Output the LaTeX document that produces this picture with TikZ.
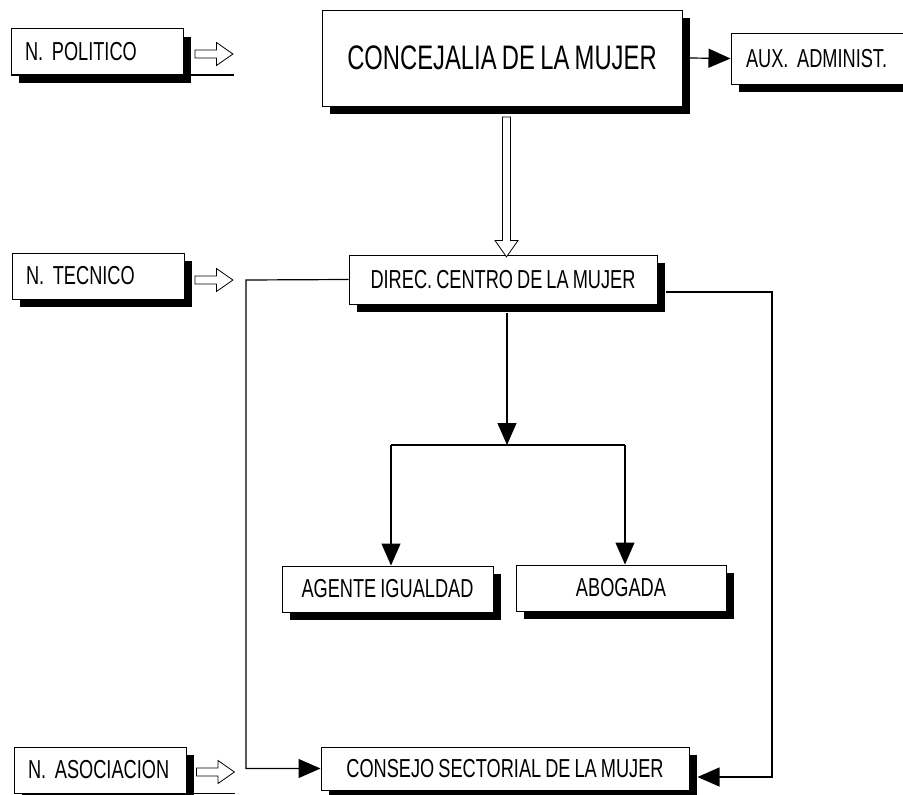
\documentclass[tikz,border=0pt]{standalone}
\usepackage{fontspec}
\setmainfont[FakeStretch=0.70,WordSpace=0.8]{Liberation Sans}
\usetikzlibrary{arrows.meta,shadows,shapes.arrows}

\begin{document}
\begin{tikzpicture}[x=1pt,y=-1pt,
    box/.style={draw,fill=white,line width=1pt,inner sep=0pt,
      font=\fontsize{26pt}{30pt}\selectfont\frenchspacing,
      drop shadow={shadow xshift=8pt,shadow yshift=-8pt,opacity=1,fill=black}},
    level/.style={box,inner xsep=14pt,text width=144pt,align=left,minimum height=46pt},
    hollow/.style={single arrow,draw,fill=white,line width=.8pt,inner sep=3.5pt,
      minimum height=38pt,minimum width=23pt,single arrow tip angle=70},
    wire/.style={line width=1.2pt},
    conn/.style={wire,-{Triangle[length=22pt,width=19pt]}}]

        \useasboundingbox (0,0) rectangle (903,795);

        % levels on the left
        \node[level] (pol)  at (97,51.5) {N. POLITICO};
        \node[level] (tec)  at (98,276)  {N. TECNICO};
        \node[level] (asoc) at (100,770) {N. ASOCIACION};

        \node[hollow] (polarrow)  at (211,54)    {};
        \node[hollow] (tecarrow)  at (211,280)   {};
        \node[hollow] (asocarrow) at (212.5,772) {};

        \draw[wire] (pol.south west)  -- (pol.south west -| polarrow.east);
        \draw[wire] (asoc.south west) -- (asoc.south west -| asocarrow.east);

        % the boxes
        \node[box,minimum width=360pt,minimum height=96pt,font=\fontsize{34pt}{38pt}\selectfont\frenchspacing]
          (conc) at (502,58) {CONCEJALIA DE LA MUJER};
        \node[box,inner xsep=15pt,text width=142pt,align=left,minimum height=51pt]
          (aux) at (817,58.5) {AUX. ADMINIST.};
        \node[box,minimum width=308pt,minimum height=49pt] (direc)   at (503,279.5) {DIREC. CENTRO DE LA MUJER};
        \node[box,minimum width=211pt,minimum height=46pt] (agente)  at (387.5,589) {AGENTE IGUALDAD};
        \node[box,minimum width=210pt,minimum height=46pt] (abogada) at (621,588)   {ABOGADA};
        \node[box,minimum width=368pt,minimum height=43pt] (consejo) at (505,768.5) {CONSEJO SECTORIAL DE LA MUJER};

        \node[hollow,shape border rotate=270,minimum height=140pt] (down) at (506.5,184) {};

        % connectors
        \coordinate (split) at (507,445);
        \coordinate (jl)    at (391,445);
        \coordinate (jr)    at (625,445);
        \coordinate (lft)   at (246,280);
        \coordinate (rgt)   at (772,292);

        \draw[conn] ([xshift=7pt]conc.east) -- (aux.west);
        \draw[conn] ([xshift=4pt,yshift=-8pt]direc.south) -- (split);
        \draw[wire] (jl) -- (jr);
        \draw[conn] (jl) -- (jl |- agente.north);
        \draw[conn] (jr) -- (jr |- abogada.north);
        \draw[conn] (direc.west) -- (lft) |- (consejo.west);
        \draw[conn] ([xshift=8pt,yshift=-12.5pt]direc.east) -| (rgt) |- ([xshift=8pt,yshift=-8.5pt]consejo.east);

      \end{tikzpicture}
\end{document}
